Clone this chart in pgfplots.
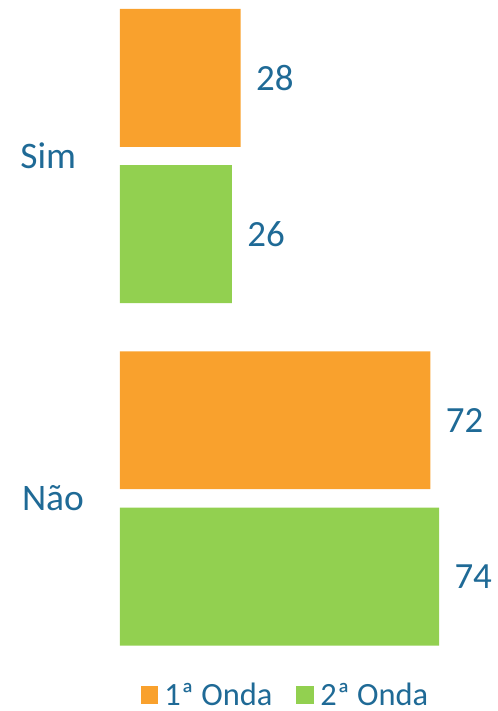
\documentclass[border=0pt]{standalone}
\usepackage{pgfplots}
\pgfplotsset{compat=1.18}
\usepackage{fontspec}
\setmainfont{Carlito}
\definecolor{txt}{HTML}{1F6A96}
\definecolor{onda1}{HTML}{F9A12D}
\definecolor{onda2}{HTML}{92D050}
\begin{document}
\begin{tikzpicture}
\begin{axis}[
	width=498pt, height=711pt, scale only axis,
	xmin=-27.78, xmax=87.5,
	ymin=0, ymax=711, y dir=reverse,
	hide axis, clip=false,
	xbar, bar shift=0pt, bar width=138pt,
	/pgf/number format/assume math mode=true,
	nodes near coords,
	every node near coord/.append style={font=\fontsize{37}{42}\selectfont, text=txt, anchor=west, xshift=12pt},
	legend columns=2,
	legend style={at={(0.574,0.021)}, anchor=center, draw=none, fill=none,
		font=\fontsize{32.5}{36}\selectfont, text=txt,
		/tikz/every odd column/.append style={column sep=4pt},
		/tikz/every even column/.append style={column sep=22pt}},
	legend image code/.code={\fill[#1] (0pt,-9pt) rectangle (18pt,9pt);},
]
\addplot[draw=none, fill=onda1] coordinates {(28,78) (72,421)};
\addlegendentry{1ª Onda}
\addplot[draw=none, fill=onda2] coordinates {(26,234.5) (74,577.5)};
\addlegendentry{2ª Onda}
\node[text=txt, font=\fontsize{37.5}{42}\selectfont] at (axis cs:-16.6,156) {Sim};
\node[text=txt, font=\fontsize{37.5}{42}\selectfont] at (axis cs:-15.5,499) {Não};
\end{axis}
\path (current axis.south west) rectangle (current axis.north east);
\end{tikzpicture}
\end{document}
